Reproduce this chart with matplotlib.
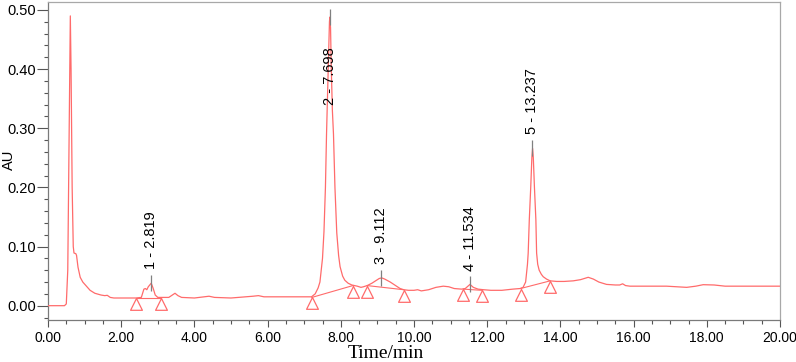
import matplotlib
matplotlib.use("Agg")
import matplotlib.pyplot as plt
from matplotlib.ticker import MultipleLocator, FormatStrFormatter

# ---- data ----
time_min = [0.00, 0.45, 0.50, 0.54, 0.57, 0.60, 0.61, 0.63, 0.66, 0.69, 0.71, 0.76, 0.78,
            0.82, 0.88, 0.95, 1.05, 1.15, 1.28, 1.45, 1.55, 1.62, 1.70, 1.80, 2.00, 2.40,
            2.55, 2.62, 2.66, 2.70, 2.74, 2.78, 2.82, 2.87, 2.93, 3.00, 3.30, 3.40, 3.47,
            3.55, 3.65, 4.00, 4.40, 4.55, 5.00, 5.60, 5.75, 5.90, 6.50, 7.00, 7.20, 7.30,
            7.38, 7.43, 7.50, 7.54, 7.58, 7.61, 7.64, 7.66, 7.69, 7.70, 7.72, 7.74, 7.77,
            7.80, 7.84, 7.89, 7.94, 7.98, 8.05, 8.11, 8.20, 8.30, 8.45, 8.55, 8.62, 8.72,
            8.85, 8.95, 9.05, 9.12, 9.20, 9.35, 9.50, 9.62, 9.72, 9.85, 10.00, 10.10, 10.20,
            10.40, 10.60, 10.80, 10.95, 11.10, 11.30, 11.40, 11.53, 11.62, 11.75, 11.90,
            12.10, 12.40, 12.70, 12.90, 12.98, 13.05, 13.10, 13.12, 13.15, 13.19, 13.22,
            13.24, 13.26, 13.29, 13.33, 13.35, 13.38, 13.42, 13.48, 13.53, 13.62, 13.72,
            13.90, 14.10, 14.35, 14.55, 14.76, 14.90, 15.05, 15.26, 15.50, 15.62, 15.70,
            15.78, 15.90, 16.50, 16.90, 17.20, 17.45, 17.70, 17.90, 18.20, 18.50, 19.00,
            20.00]
absorbance = [0.000, 0.000, 0.003, 0.060, 0.250, 0.450, 0.490, 0.400, 0.200, 0.100, 0.089,
              0.088, 0.085, 0.065, 0.048, 0.040, 0.033, 0.026, 0.021, 0.018, 0.017, 0.0175,
              0.014, 0.013, 0.013, 0.013, 0.014, 0.028, 0.029, 0.027, 0.032, 0.035, 0.038,
              0.030, 0.018, 0.014, 0.014, 0.018, 0.021, 0.017, 0.014, 0.013, 0.016, 0.014,
              0.013, 0.016, 0.017, 0.015, 0.015, 0.015, 0.015, 0.020, 0.030, 0.040, 0.080,
              0.125, 0.200, 0.290, 0.360, 0.400, 0.480, 0.488, 0.470, 0.400, 0.330, 0.290,
              0.200, 0.123, 0.085, 0.066, 0.050, 0.043, 0.038, 0.035, 0.033, 0.031, 0.032,
              0.034, 0.038, 0.042, 0.046, 0.047, 0.045, 0.040, 0.034, 0.029, 0.027, 0.026,
              0.026, 0.027, 0.025, 0.027, 0.031, 0.033, 0.032, 0.029, 0.028, 0.029, 0.036,
              0.031, 0.028, 0.027, 0.026, 0.026, 0.028, 0.029, 0.031, 0.040, 0.070, 0.089,
              0.145, 0.201, 0.250, 0.266, 0.250, 0.201, 0.145, 0.089, 0.070, 0.060, 0.053,
              0.049, 0.045, 0.042, 0.041, 0.041, 0.042, 0.044, 0.048, 0.045, 0.040, 0.036,
              0.035, 0.035, 0.037, 0.034, 0.033, 0.033, 0.033, 0.032, 0.031, 0.033, 0.0355,
              0.035, 0.033, 0.033, 0.033]

peak_labels = ["1 - 2.819", "2 - 7.698", "3 - 9.112", "4 - 11.534", "5 - 13.237"]
peak_times = [2.819, 7.698, 9.112, 11.534, 13.237]
peak_heights = [0.038, 0.488, 0.047, 0.036, 0.266]

# baseline start / end markers for each peak
base_start_t = [2.40, 7.21, 8.72, 11.35, 12.91]
base_start_y = [0.013, 0.014, 0.034, 0.028, 0.029]
base_end_t = [3.10, 8.33, 9.72, 11.85, 13.72]
base_end_y = [0.013, 0.034, 0.027, 0.026, 0.042]

x_ticks = [0, 2, 4, 6, 8, 10, 12, 14, 16, 18, 20]
y_ticks = [0.0, 0.1, 0.2, 0.3, 0.4, 0.5]

# ---- style ----
trace_color = "#ff6b6b"
sans = ["Liberation Sans", "DejaVu Sans"]
serif = ["Liberation Serif", "DejaVu Serif"]
plt.rcParams["font.family"] = sans

fig = plt.figure(figsize=(7.96, 3.62), dpi=100)
ax = fig.add_axes([48 / 796, 1 - 320 / 362, (780 - 48) / 796, (320 - 2) / 362])

ax.plot(time_min, absorbance, color=trace_color, lw=0.9, zorder=3)

# baseline segments and triangle markers
tri = [(0, 0), (-0.5, -1), (0.5, -1), (0, 0)]
for t0, y0, t1, y1 in zip(base_start_t, base_start_y, base_end_t, base_end_y):
    ax.plot([t0, t1], [y0, y1], color=trace_color, lw=0.8, zorder=2)
ax.plot(base_start_t + base_end_t, base_start_y + base_end_y, linestyle="none",
        marker=tri, markersize=17, markerfacecolor="none", markeredgecolor=trace_color,
        markeredgewidth=0.9, zorder=4)

# peak apex ticks
ax.plot(peak_times, peak_heights, linestyle="none", marker="|", markersize=11,
        color="#808080", markeredgewidth=0.9, zorder=5)

for lab, t, h in zip(peak_labels, peak_times, peak_heights):
    if h > 0.4:
        ax.annotate(lab, xy=(t, h), xytext=(0, -22), textcoords="offset points",
                    rotation=90, ha="center", va="top", fontsize=10.5, color="black",
                    zorder=6)
    else:
        ax.annotate(lab, xy=(t, h), xytext=(0, 10), textcoords="offset points",
                    rotation=90, ha="center", va="bottom", fontsize=10.5, color="black",
                    zorder=6)

ax.set_xlim(0, 20)
ax.set_ylim(-0.0242, 0.5135)
ax.set_xticks(x_ticks)
ax.set_yticks(y_ticks)
ax.xaxis.set_major_formatter(FormatStrFormatter("%.2f"))
ax.yaxis.set_major_formatter(FormatStrFormatter("%.2f"))
ax.xaxis.set_minor_locator(MultipleLocator(0.5))
ax.yaxis.set_minor_locator(MultipleLocator(0.02))

ax.tick_params(axis="x", which="major", direction="out", length=5, width=0.8,
               color="#555555", labelsize=10, pad=3)
ax.tick_params(axis="x", which="minor", direction="out", length=3, width=0.8,
               color="#555555")
ax.tick_params(axis="y", which="major", direction="out", length=8, width=0.8,
               color="#555555", labelsize=10.5, pad=0.5)
ax.tick_params(axis="y", which="minor", direction="out", length=3, width=0.8,
               color="#555555")

for side in ["left", "bottom"]:
    ax.spines[side].set_color("#7a7a7a")
    ax.spines[side].set_linewidth(0.9)
for side in ["top", "right"]:
    ax.spines[side].set_color("#a8a8a8")
    ax.spines[side].set_linewidth(0.9)

fig.text(386 / 796, 1 - 358 / 362, "Time/min", family=serif, fontsize=14,
         ha="center", va="baseline")
fig.text(9 / 796, 1 - 160 / 362, "AU", rotation=90, fontsize=10.5,
         ha="center", va="center")

fig.savefig("out.png", dpi=100)
